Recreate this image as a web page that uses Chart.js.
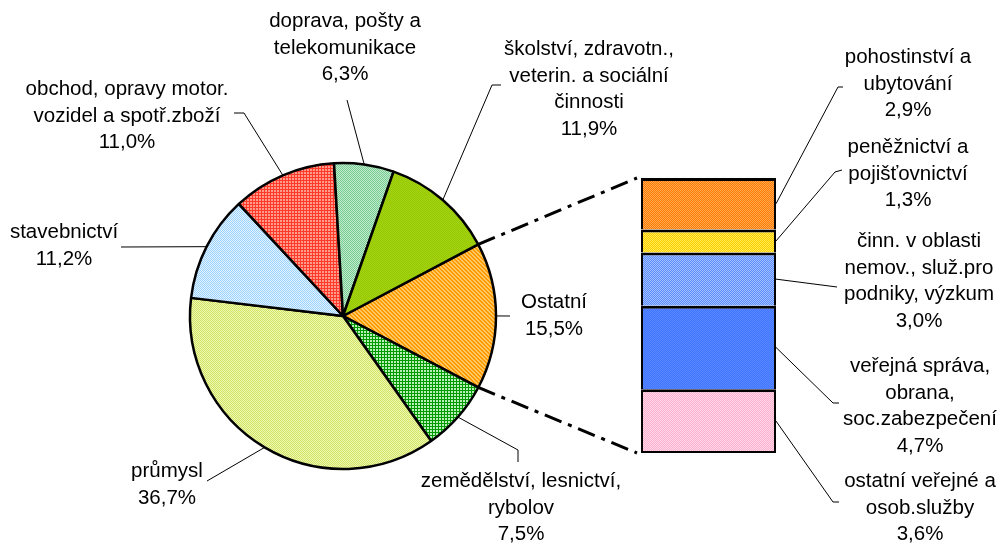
<!DOCTYPE html>
<html><head><meta charset="utf-8">
<script src="https://cdn.jsdelivr.net/npm/chart.js@4/dist/chart.umd.min.js"></script>
<style>
html,body{margin:0;padding:0;background:#fff;}
#wrap{position:relative;width:1002px;height:545px;overflow:hidden;background:#fff}
#pie{position:absolute;left:0;top:0}
#bar{position:absolute;left:641px;top:178px}
</style></head><body>
<div id="wrap"><canvas id="pie" width="1002" height="545"></canvas><canvas id="bar" width="135" height="275"></canvas></div>
<script>
// ---- data ----
const pieCategories = ['Ostatní','zemědělství, lesnictví,\nrybolov','průmysl','stavebnictví','obchod, opravy motor.\nvozidel a spotř.zboží','doprava, pošty a\ntelekomunikace','školství, zdravotn.,\nveterin. a sociální\nčinnosti'];
const pieValues = [15.5, 7.5, 36.7, 11.2, 11.0, 6.3, 11.9];
const barCategories = ['pohostinství a\nubytování','peněžnictví a\npojišťovnictví','činn. v oblasti\nnemov., služ.pro\npodniky, výzkum','veřejná správa,\nobrana,\nsoc.zabezpečení','ostatní veřejné a\nosob.služby'];
const barValues = [2.9, 1.3, 3.0, 4.7, 3.6];

// ---- layout (label positions & leader elbows) ----
const pieLabelPos = [
  {x:554, y:308, path:[[510,316]]},
  {x:521, y:487, path:[[518,450],[518,462]]},
  {x:167, y:477, path:[[207,481]]},
  {x:64,  y:238, path:[[121,247]]},
  {x:127, y:95,  path:[[244,113],[234,113]]},
  {x:345, y:27,  path:[[347,100]]},
  {x:589, y:55,  path:[[492,85],[501,85]]}
];
const barLabelPos = [
  {x:908, y:63,  path:[[838,87],[843,87]]},
  {x:908, y:153, path:[[835,172],[842,170]]},
  {x:919, y:247, path:[[837,287]]},
  {x:920, y:372, path:[[833,403],[839,403]]},
  {x:920, y:487, path:[[833,502],[839,502]]}
];
const LINE_H = 26.5;
const FONT = '20.5px "Liberation Sans", Arial, sans-serif';

function pat(c1, c2, type) {
  const c = document.createElement('canvas');
  const n = type === 'grid' ? 3 : (type === 'diag' ? 4 : 2);
  c.width = n; c.height = n;
  const g = c.getContext('2d');
  g.fillStyle = c2; g.fillRect(0,0,n,n);
  g.fillStyle = c1;
  if (type === 'check') { g.fillRect(0,0,1,1); g.fillRect(1,1,1,1); }
  else if (type === 'grid') { g.fillRect(0,0,n,1); g.fillRect(0,0,1,n); }
  else if (type === 'diag') { for (let i=0;i<n;i++){ g.fillRect(i,i,1,1); g.fillRect(i,(i+1)%n,1,1);} }
  return g.createPattern(c,'repeat');
}

const pieColors = [
  pat('#FF9900','#FFC860','diag'),
  pat('#009A00','#B8F0B8','grid'),
  pat('#D0E468','#F0F8B0','check'),
  pat('#9CD2FF','#E4F4FF','check'),
  pat('#FF3A2A','#FF9C8C','grid'),
  pat('#78CC94','#C0EACC','check'),
  pat('#94C800','#A6D414','check')
];
const barColors = [
  pat('#FF7A00','#FFAA50','check'),
  pat('#FFCC00','#FFEC50','check'),
  pat('#5A8CFF','#A4C2FF','check'),
  pat('#4075FF','#5887FF','check'),
  pat('#FFB0D0','#FFD8E8','check')
];

function fmt(v){ return v.toFixed(1).replace('.', ',') + '%'; }

// ---- bar (stacked, bottom-up order) ----
const n = barValues.length;
const barDatasets = [];
for (let k = n - 1; k >= 0; k--) {
  barDatasets.push({
    label: barCategories[k],
    data: [barValues[k]],
    backgroundColor: barColors[k],
    borderColor: '#000',
    borderWidth: {left:2, right:2, top:3, bottom: k === n - 1 ? 2 : 0},
    borderSkipped: false,
    inflateAmount: 0,
    barPercentage: 1,
    categoryPercentage: 1
  });
}
const barTotal = barValues.reduce((a,b)=>a+b,0);
const barChart = new Chart(document.getElementById('bar'), {
  type: 'bar',
  data: { labels: ['Ostatní'], datasets: barDatasets },
  options: {
    responsive: false, animation: false, devicePixelRatio: 1,
    layout: { padding: 0 },
    plugins: { legend: {display:false}, tooltip: {enabled:false} },
    scales: {
      x: { stacked: true, display: false },
      y: { stacked: true, display: false, min: 0, max: barTotal }
    }
  }
});

function drawLabel(ctx, pos, text, value) {
  const lines = text.split('\n').concat([fmt(value)]);
  ctx.font = FONT; ctx.fillStyle = '#000'; ctx.textAlign = 'center'; ctx.textBaseline = 'alphabetic';
  lines.forEach((l,i) => ctx.fillText(l, pos.x, pos.y + i*LINE_H));
}
function drawLeader(ctx, start, path) {
  ctx.beginPath(); ctx.moveTo(start[0], start[1]);
  path.forEach(p => ctx.lineTo(p[0], p[1]));
  ctx.strokeStyle = '#000'; ctx.lineWidth = 1; ctx.setLineDash([]); ctx.stroke();
}

const overlay = {
  id: 'overlay',
  afterDraw(chart) {
    const ctx = chart.ctx;
    const meta = chart.getDatasetMeta(0);
    ctx.save();
    meta.data.forEach((arc, i) => {
      const p = arc.getProps(['x','y','startAngle','endAngle','outerRadius'], true);
      const mid = (p.startAngle + p.endAngle) / 2;
      const s = [p.x + p.outerRadius*Math.cos(mid), p.y + p.outerRadius*Math.sin(mid)];
      drawLeader(ctx, s, pieLabelPos[i].path);
      drawLabel(ctx, pieLabelPos[i], pieCategories[i], pieValues[i]);
    });
    const bc = document.getElementById('bar');
    const ox = bc.offsetLeft, oy = bc.offsetTop;
    for (let k = 0; k < n; k++) {
      const el = barChart.getDatasetMeta(n - 1 - k).data[0];
      const s = [ox + el.x + el.width/2, oy + (el.y + el.base)/2];
      drawLeader(ctx, s, barLabelPos[k].path);
      drawLabel(ctx, barLabelPos[k], barCategories[k], barValues[k]);
    }
    const a = meta.data[0].getProps(['x','y','startAngle','endAngle','outerRadius'], true);
    const topEl = barChart.getDatasetMeta(n - 1).data[0];
    const botEl = barChart.getDatasetMeta(0).data[0];
    const leftX = ox + topEl.x - topEl.width/2;
    ctx.beginPath();
    ctx.moveTo(a.x + a.outerRadius*Math.cos(a.startAngle), a.y + a.outerRadius*Math.sin(a.startAngle));
    ctx.lineTo(leftX - 4, oy + topEl.y);
    ctx.moveTo(a.x + a.outerRadius*Math.cos(a.endAngle), a.y + a.outerRadius*Math.sin(a.endAngle));
    ctx.lineTo(leftX - 4, oy + botEl.base);
    ctx.lineWidth = 3; ctx.setLineDash([18,7,4,7]); ctx.strokeStyle = '#000'; ctx.stroke();
    ctx.restore();
  }
};

new Chart(document.getElementById('pie'), {
  type: 'pie',
  data: { labels: pieCategories, datasets: [{ data: pieValues, backgroundColor: pieColors, borderColor: '#000', borderWidth: 2.5 }] },
  options: {
    responsive: false, animation: false, devicePixelRatio: 1,
    rotation: 62.1, radius: 153,
    layout: { padding: {left:0, right:316, top:87, bottom:0} },
    plugins: { legend: {display:false}, tooltip: {enabled:false} }
  },
  plugins: [overlay]
});
</script>
</body></html>
